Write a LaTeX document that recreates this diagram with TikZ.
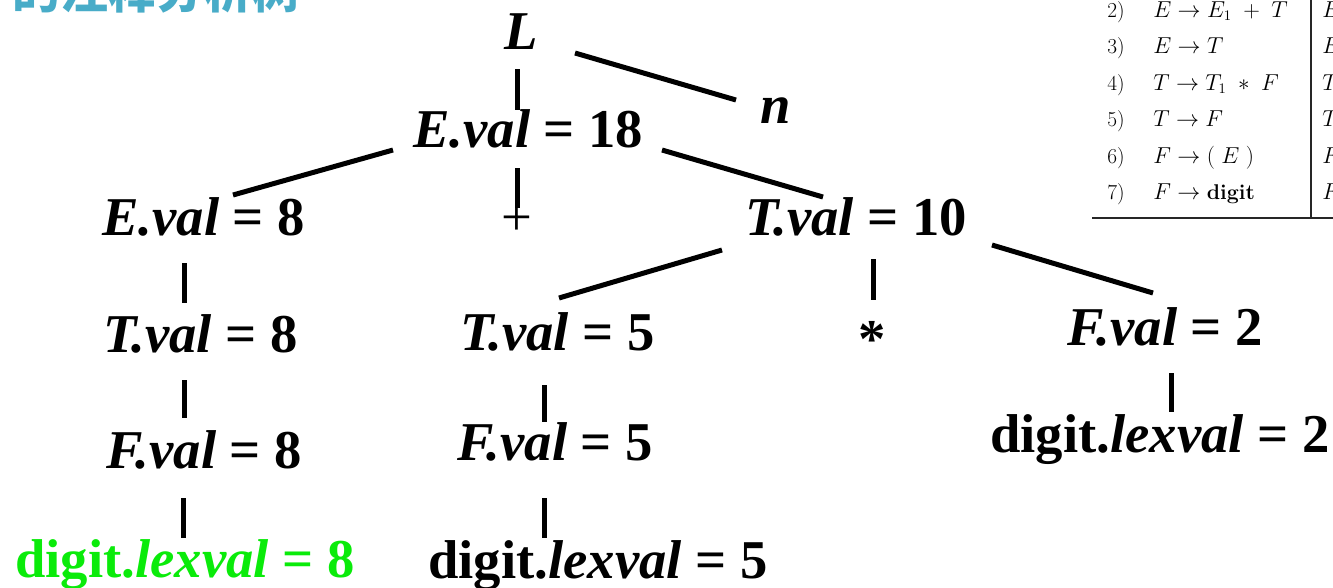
\documentclass[tikz,border=0pt]{standalone}
\usepackage{fontspec}
\setmainfont{Liberation Serif}
\newfontfamily\tnrb{Liberation Serif Bold}
\newfontfamily\tnrbi{Liberation Serif Bold Italic}
\newfontfamily\lmr{Latin Modern Roman}
\newfontfamily\cjk{Noto Sans CJK SC}
\newcommand{\vr}[1]{{\tnrbi #1}}
\definecolor{titlecyan}{RGB}{72,172,200}
\definecolor{leafgreen}{RGB}{10,235,10}
\tikzset{
  lbl/.style={inner sep=0pt, anchor=base west, font=\tnrb\fontsize{41}{48}\selectfont},
  sym/.style={inner sep=0pt, anchor=base, font=\fontsize{41}{48}\selectfont},
  edge/.style={line width=3.75pt, black},
  tab/.style={inner sep=0pt, anchor=base west, font=\lmr\fontsize{16}{19}\selectfont},
  rule/.style={line width=1.2pt, black!85}
}
\begin{document}
\begin{tikzpicture}[x=0.75pt,y=-0.75pt]
\useasboundingbox (0,0) rectangle (1333,587);
\clip (0,0) rectangle (1333,587);
\fill[white] (0,0) rectangle (1333,587);
% title (cut off at top)
\node[inner sep=0pt, anchor=base west, font=\cjk\bfseries\fontsize{36}{40}\selectfont, text=titlecyan] (title) at (12,8) {的注释分析树};
% tree nodes
\node[lbl] (L) at (504,49) {\vr{L}};
\node[lbl] (n) at (760,123) {\vr{n}};
\node[lbl] (E18) at (413,147) {\vr{E.val} = 18};
\node[lbl] (E8) at (102,235) {\vr{E.val} = 8};
\node[sym] (plus) at (517,235) {+};
\node[lbl] (T10) at (745,235) {\vr{T.val} = 10};
\node[lbl] (T8) at (103,352) {\vr{T.val} = 8};
\node[lbl] (T5) at (460,350) {\vr{T.val} = 5};
\node[sym, font=\tnrb\fontsize{41}{48}\selectfont] (star) at (872,357) {*};
\node[lbl] (F2) at (1067,345) {\vr{F.val} = 2};
\node[lbl] (F8) at (106,468) {\vr{F.val} = 8};
\node[lbl] (F5) at (457,460) {\vr{F.val} = 5};
\node[lbl] (d2) at (990,452) {digit.\vr{lexval} = 2};
\node[lbl, text=leafgreen] (d8) at (15,577) {digit.\vr{lexval} = 8};
\node[lbl] (d5) at (428,578) {digit.\vr{lexval} = 5};
% tree edges
\draw[edge] ([shift={(13,20)}]L.base west) -- ([shift={(104,-37)}]E18.base west);
\draw[edge] ([shift={(71,4)}]L.base west) -- ([shift={(-24,-23)}]n.base west);
\draw[edge] ([shift={(-20,3)}]E18.base west) -- ([shift={(131,-40)}]E8.base west);
\draw[edge] ([shift={(104,21)}]E18.base west) -- ([shift={(0,-27)}]plus.base);
\draw[edge] ([shift={(249,3)}]E18.base west) -- ([shift={(78,-38)}]T10.base west);
\draw[edge] ([shift={(82,28)}]E8.base west) -- ([shift={(81,-49)}]T8.base west);
\draw[edge] ([shift={(81,28)}]T8.base west) -- ([shift={(78,-50)}]F8.base west);
\draw[edge] ([shift={(77,30)}]F8.base west) -- ([shift={(168,-39)}]d8.base west);
\draw[edge] ([shift={(-23,15)}]T10.base west) -- ([shift={(99,-52)}]T5.base west);
\draw[edge] ([shift={(128,24)}]T10.base west) -- ([shift={(1,-57)}]star.base);
\draw[edge] ([shift={(247,10)}]T10.base west) -- ([shift={(86,-52)}]F2.base west);
\draw[edge] ([shift={(84,35)}]T5.base west) -- ([shift={(87,-38)}]F5.base west);
\draw[edge] ([shift={(87,38)}]F5.base west) -- ([shift={(116,-40)}]d5.base west);
\draw[edge] ([shift={(104,28)}]F2.base west) -- ([shift={(181,-40)}]d2.base west);
% grammar table (top right, cut off)
\node[tab] (k2) at (1107,17) {2)};
\node[tab] (p2) at (1153,17) {$E \to E_1 \;+\; T$};
\node[tab] (s2) at (1322,17) {$E$};
\node[tab] (k3) at (1107,53) {3)};
\node[tab] (p3) at (1153,53) {$E \to T$};
\node[tab] (s3) at (1322,53) {$E$};
\node[tab] (k4) at (1107,90) {4)};
\node[tab] (p4) at (1153,90) {$T \to T_1 \;*\; F$};
\node[tab] (s4) at (1322,90) {$T$};
\node[tab] (k5) at (1107,126) {5)};
\node[tab] (p5) at (1153,126) {$T \to F$};
\node[tab] (s5) at (1322,126) {$T$};
\node[tab] (k6) at (1107,163) {6)};
\node[tab] (p6) at (1153,163) {$F \to (\;E\;)$};
\node[tab] (s6) at (1322,163) {$F$};
\node[tab] (k7) at (1107,199) {7)};
\node[tab] (p7) at (1153,199) {$F \to{}$\textbf{digit}};
\node[tab] (s7) at (1322,199) {$F$};
\coordinate (vtop) at (1311,0);
\coordinate (hl) at (1092,218);
\coordinate (hr) at (1333,218);
\draw[rule] (vtop) -- (vtop |- hl);
\draw[rule] (hl) -- (hr);
\end{tikzpicture}
\end{document}
